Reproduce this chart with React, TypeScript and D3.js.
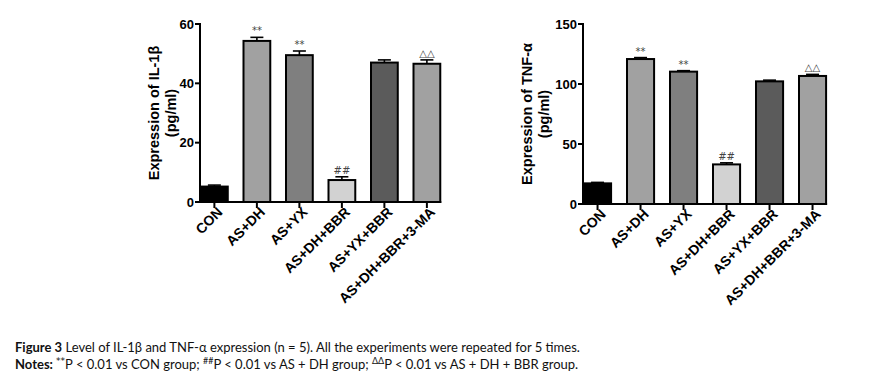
import React from 'react';
import * as d3 from 'd3';

// groups shared by both panels
const groups = ['CON', 'AS+DH', 'AS+YX', 'AS+DH+BBR', 'AS+YX+BBR', 'AS+DH+BBR+3-MA'];
const fills = ['#000000', '#a1a1a1', '#7f7f7f', '#d2d2d2', '#5b5b5b', '#a1a1a1'];
const marks = ['', '**', '**', '##', '', '△△'];

// IL-1β (pg/ml)
const il1bMean = [5.2, 54.3, 49.5, 7.4, 47.0, 46.6];
const il1bErr = [0.5, 1.2, 1.4, 1.1, 0.9, 1.3];
const il1bTicks = [0, 20, 40, 60];

// TNF-α (pg/ml)
const tnfMean = [17.2, 120.8, 110.3, 33.0, 102.2, 106.7];
const tnfErr = [0.8, 1.2, 0.8, 1.3, 1.0, 1.3];
const tnfTicks = [0, 50, 100, 150];

const axisFont = '"Liberation Sans", Arial, sans-serif';

type PanelProps = {
  axisX: number;
  top: number;
  bottom: number;
  yMax: number;
  ticks: number[];
  means: number[];
  errs: number[];
  label: string;
  labelX: number;
  step: number;
};

const Panel = ({ axisX, top, bottom, yMax, ticks, means, errs, label, labelX, step }: PanelProps) => {
  const y = d3.scaleLinear().domain([0, yMax]).range([bottom, top]);
  const x = d3
    .scaleBand<string>()
    .domain(groups)
    .range([axisX + 1, axisX + 1 + step * (groups.length - 0.37 + 1.1)])
    .paddingInner(0.37)
    .paddingOuter(0.55)
    .align(0);
  const bw = x.bandwidth();
  const xEnd = (x(groups[groups.length - 1]) as number) + bw + 1;
  const midY = (top + bottom) / 2;

  return (
    <g>
      {/* bars */}
      {groups.map((g, i) => (
        <rect
          key={g}
          x={x(g)}
          y={y(means[i])}
          width={bw}
          height={bottom - y(means[i])}
          fill={fills[i]}
          stroke="#000"
          strokeWidth={2}
        />
      ))}
      {/* error bars */}
      {groups.map((g, i) => {
        const cx = (x(g) as number) + bw / 2;
        const yt = y(means[i] + errs[i]);
        return (
          <g key={'e' + g} stroke="#000" strokeWidth={1.6}>
            <line x1={cx} x2={cx} y1={y(means[i])} y2={yt} />
            <line x1={cx - 6.5} x2={cx + 6.5} y1={yt} y2={yt} />
          </g>
        );
      })}
      {/* significance marks */}
      {groups.map((g, i) =>
        marks[i] ? (
          <text
            key={'m' + g}
            x={(x(g) as number) + bw / 2}
            y={y(means[i] + errs[i]) - 3}
            textAnchor="middle"
            fontSize={10}
            fontFamily={'"DejaVu Sans", sans-serif'}
            fill="#444"
          >
            {marks[i]}
          </text>
        ) : null
      )}
      {/* y axis */}
      <line x1={axisX} x2={axisX} y1={top - 1} y2={bottom + 1} stroke="#000" strokeWidth={2} />
      {ticks.map((t) => (
        <g key={'t' + t}>
          <line x1={axisX - 5} x2={axisX} y1={y(t)} y2={y(t)} stroke="#000" strokeWidth={2} />
          <text
            x={axisX - 6}
            y={y(t)}
            dy="0.35em"
            textAnchor="end"
            fontSize={13}
            fontWeight="bold"
            fontFamily={axisFont}
          >
            {t}
          </text>
        </g>
      ))}
      {/* x axis */}
      <line x1={axisX - 1} x2={xEnd} y1={bottom} y2={bottom} stroke="#000" strokeWidth={2} />
      {groups.map((g) => {
        const cx = (x(g) as number) + bw / 2;
        return (
          <g key={'x' + g}>
            <line x1={cx} x2={cx} y1={bottom} y2={bottom + 6} stroke="#000" strokeWidth={2} />
            <text
              transform={`translate(${cx + 9},${bottom + 11}) rotate(-45)`}
              textAnchor="end"
              fontSize={14}
              fontWeight="bold"
              fontFamily={axisFont}
            >
              {g}
            </text>
          </g>
        );
      })}
      {/* y label */}
      <text
        transform={`translate(${labelX},${midY}) rotate(-90)`}
        textAnchor="middle"
        fontSize={14.5}
        fontWeight="bold"
        fontFamily={axisFont}
      >
        <tspan x={0} dy={0}>{label}</tspan>
        <tspan x={0} dy={17}>(pg/ml)</tspan>
      </text>
    </g>
  );
};

const capFont = 'Lato, "Open Sans", sans-serif';

const App = () => (
  <svg width={893} height={386} style={{ position: 'absolute', left: 0, top: 0, background: '#fff' }}>
    <Panel
      axisX={200}
      top={24}
      bottom={202}
      yMax={60}
      ticks={il1bTicks}
      means={il1bMean}
      errs={il1bErr}
      label="Expression of IL-1β"
      labelX={159}
      step={42.5}
    />
    <Panel
      axisX={583}
      top={24}
      bottom={204}
      yMax={150}
      ticks={tnfTicks}
      means={tnfMean}
      errs={tnfErr}
      label="Expression of TNF-α"
      labelX={532}
      step={43}
    />
    <text x={15} y={352} fontSize={13} fontFamily={capFont} fill="#111">
      <tspan fontWeight="bold">Figure 3</tspan>
      <tspan> Level of IL-1β and TNF-α expression (n = 5). All the experiments were repeated for 5 times.</tspan>
    </text>
    <text x={15} y={369} fontSize={13} fontFamily={capFont} fill="#111">
      <tspan fontWeight="bold">Notes: </tspan>
      <tspan fontSize={9} dy={-5} fontFamily={'"DejaVu Sans", sans-serif'}>**</tspan>
      <tspan dy={5}>P &lt; 0.01 vs CON group; </tspan>
      <tspan fontSize={9} dy={-5}>##</tspan>
      <tspan dy={5}>P &lt; 0.01 vs AS + DH group; </tspan>
      <tspan fontSize={9} dy={-5}>ΔΔ</tspan>
      <tspan dy={5}>P &lt; 0.01 vs AS + DH + BBR group.</tspan>
    </text>
  </svg>
);

export default App;
